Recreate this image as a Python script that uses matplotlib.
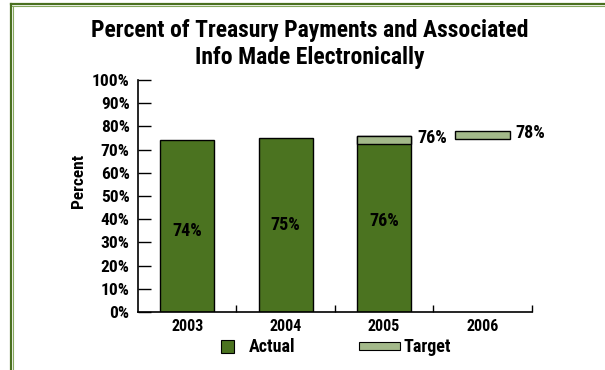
import matplotlib
matplotlib.use("Agg")
import matplotlib.pyplot as plt
from matplotlib.lines import Line2D
from matplotlib.patches import Rectangle

plt.rcParams['font.family'] = ['Roboto Condensed', 'DejaVu Sans']
plt.rcParams['font.weight'] = 'bold'

years = ['2003', '2004', '2005', '2006']
actual = [74, 75, 76, None]
target = [None, None, 76, 78]
yticks = list(range(0, 101, 10))

DARK = '#4b7320'
LIGHT = '#a3b98a'

fig = plt.figure(figsize=(6.05, 3.7), dpi=100)
ax = fig.add_axes([0.228, 0.157, 0.651, 0.627])

bw = 0.55
band = 3.6
label_frac = [0.469, 0.497, 0.513, 0.5]  # vertical placement of in-bar labels
for i, (a, t) in enumerate(zip(actual, target)):
    x = i + 0.5
    if a is not None:
        ax.bar(x, a, width=bw, color=DARK, edgecolor='black', linewidth=1.0, zorder=2)
        ax.text(x, a * label_frac[i], f'{a}%', ha='center', va='center', fontsize=13,
                fontweight='bold', color='black', zorder=4)
    if t is not None:
        ax.bar(x, band, bottom=t - band, width=bw, color=LIGHT, edgecolor='black',
               linewidth=1.0, zorder=3)
        ax.text(x + bw / 2 + 0.06, t - 1, f'{t}%', ha='left', va='center', fontsize=13,
                fontweight='bold', color='black', zorder=4)

ax.set_xlim(0, 4)
ax.set_ylim(0, 100)
ax.set_yticks(yticks)
ax.set_yticklabels([f'{v}%' for v in yticks], fontsize=12.5, fontweight='bold')
ax.tick_params(axis='y', direction='in', length=9, width=1, pad=6)

ax.set_xticks([1, 2, 3, 4])
ax.set_xticklabels([])
ax.tick_params(axis='x', which='major', direction='in', length=5, width=1)
ax.set_xticks([i + 0.5 for i in range(len(years))], minor=True)
ax.set_xticklabels(years, minor=True, fontsize=11.5, fontweight='bold')
ax.tick_params(axis='x', which='minor', length=0, pad=5)

for s in ['top', 'right']:
    ax.spines[s].set_visible(False)
for s in ['left', 'bottom']:
    ax.spines[s].set_linewidth(1.2)

ax.set_ylabel('Percent', fontsize=12.5, fontweight='bold')
ax.yaxis.set_label_coords(-0.133, 0.5625)

fig.text(0.512, 0.882, 'Percent of Treasury Payments and Associated\nInfo Made Electronically',
         ha='center', va='center', fontsize=17, fontweight='bold', linespacing=1.22)

# legend (manual)
fig.patches.append(Rectangle((221 / 605, 1 - 353 / 370), 13 / 605, 13 / 370,
                             transform=fig.transFigure, facecolor=DARK,
                             edgecolor='black', linewidth=0.8))
fig.text(249 / 605, 1 - 347 / 370, 'Actual', ha='left', va='center', fontsize=13,
         fontweight='bold')
fig.patches.append(Rectangle((359 / 605, 1 - 350 / 370), 41 / 605, 8 / 370,
                             transform=fig.transFigure, facecolor=LIGHT,
                             edgecolor='black', linewidth=0.8))
fig.text(404 / 605, 1 - 347 / 370, 'Target', ha='left', va='center', fontsize=13,
         fontweight='bold')

# frame lines
fig.add_artist(Line2D([10.5 / 605, 1], [1 - 4 / 370, 1 - 4 / 370], color='#4a7020',
                      linewidth=1.6, transform=fig.transFigure))
fig.add_artist(Line2D([11 / 605, 11 / 605], [1 - 4 / 370, 0], color='#4a7020',
                      linewidth=1.6, transform=fig.transFigure))
fig.add_artist(Line2D([12 / 605, 1], [1 - 5.5 / 370, 1 - 5.5 / 370], color='#86a860',
                      linewidth=0.8, transform=fig.transFigure))
fig.add_artist(Line2D([12.5 / 605, 12.5 / 605], [1 - 5.5 / 370, 0], color='#86a860',
                      linewidth=0.8, transform=fig.transFigure))

fig.savefig('out.png', dpi=100)
